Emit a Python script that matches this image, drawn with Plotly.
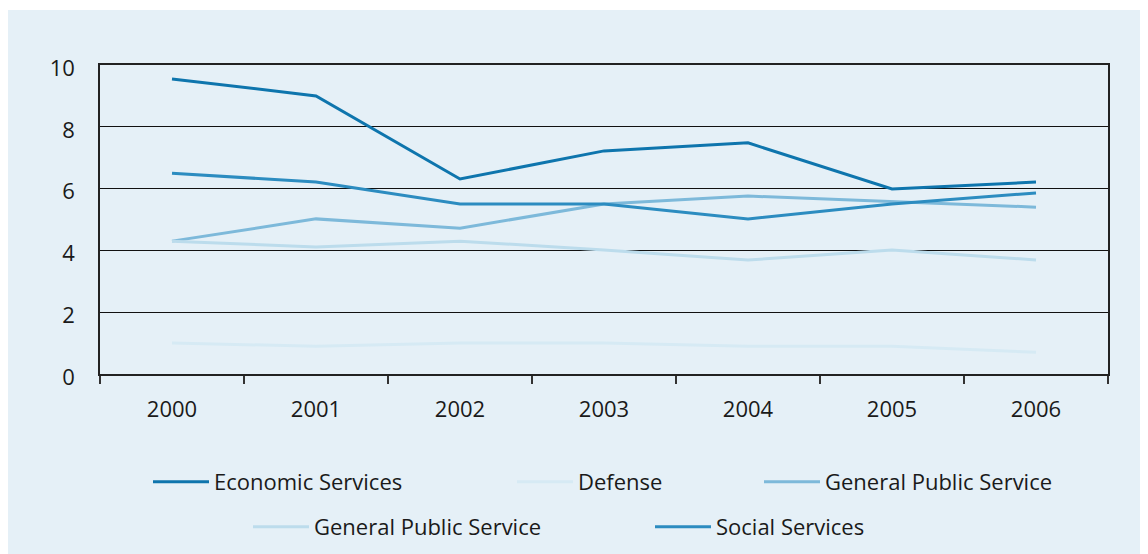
import plotly.graph_objects as go

years = ["2000", "2001", "2002", "2003", "2004", "2005", "2006"]
economic = [9.55, 9.0, 6.31, 7.22, 7.48, 5.99, 6.21]
defense = [1.0, 0.9, 1.0, 1.0, 0.9, 0.9, 0.7]
gps_a = [4.3, 5.02, 4.72, 5.5, 5.76, 5.57, 5.4]
gps_b = [4.3, 4.11, 4.3, 4.01, 3.69, 4.01, 3.69]
social = [6.5, 6.21, 5.5, 5.5, 5.02, 5.5, 5.86]
y_ticks = [0, 2, 4, 6, 8, 10]

BG = "#e5f0f7"
OFF = 8  # page offset of the figure (body margin)
W, H = 1140, 546
L, R, T, B = 92, 40, 57, 180
PW, PH = W - L - R, H - T - B

def px_x(px):
    return (px - OFF - L) / PW

def px_y(py):
    return (H - B - (py - OFF)) / PH

series = [
    ("Economic Services", economic, "#0e75ad", 3, "legend", 154, 482),
    ("Defense", defense, "#d6eaf4", 3, "legend2", 518, 482),
    ("General Public Service", gps_a, "#7db9da", 3, "legend3", 765, 482),
    ("General Public Service", gps_b, "#bcdcec", 3, "legend4", 254, 527),
    ("Social Services", social, "#2c8cc0", 3, "legend5", 656, 527),
]

fig = go.Figure()
legends = {}
for name, vals, color, width, lg, lx, ly in series:
    fig.add_trace(go.Scatter(x=years, y=vals, name=name, mode="lines",
                             line=dict(color=color, width=width), legend=lg))
    legends[lg] = dict(x=px_x(lx - 6), y=px_y(ly), xanchor="left", yanchor="middle",
                       bgcolor="rgba(0,0,0,0)", font=dict(family="Open Sans", size=22, color="#1a1a1a"),
                       itemwidth=56, borderwidth=0)

fig.update_layout(
    width=W, height=H,
    margin=dict(l=L, r=R, t=T, b=B, autoexpand=False),
    paper_bgcolor="white",
    plot_bgcolor=BG,
    font=dict(family="Open Sans", size=22, color="#1a1a1a"),
    showlegend=True,
    shapes=[dict(type="rect", xref="paper", yref="paper", layer="below",
                 x0=px_x(0), x1=px_x(W + 20), y0=px_y(H + 20), y1=px_y(10),
                 fillcolor=BG, line=dict(width=0))],
    **legends,
)
fig.update_xaxes(type="category", tickson="boundaries", ticks="outside", ticklen=8,
                 tickcolor="#333", tickwidth=1.5, showgrid=False,
                 showline=True, linecolor="#222", linewidth=1.5, mirror=True,
                 ticklabelstandoff=15, range=[-0.5, 6.5], automargin=False)
fig.update_yaxes(range=[0, 10], tickvals=y_ticks, showgrid=True, gridcolor="#111",
                 gridwidth=1, showline=True, linecolor="#222", linewidth=1.5, mirror=True,
                 ticks="", ticklabelstandoff=19, ticklabelshift=3, zeroline=False,
                 automargin=False)

fig.write_html("out.html")
